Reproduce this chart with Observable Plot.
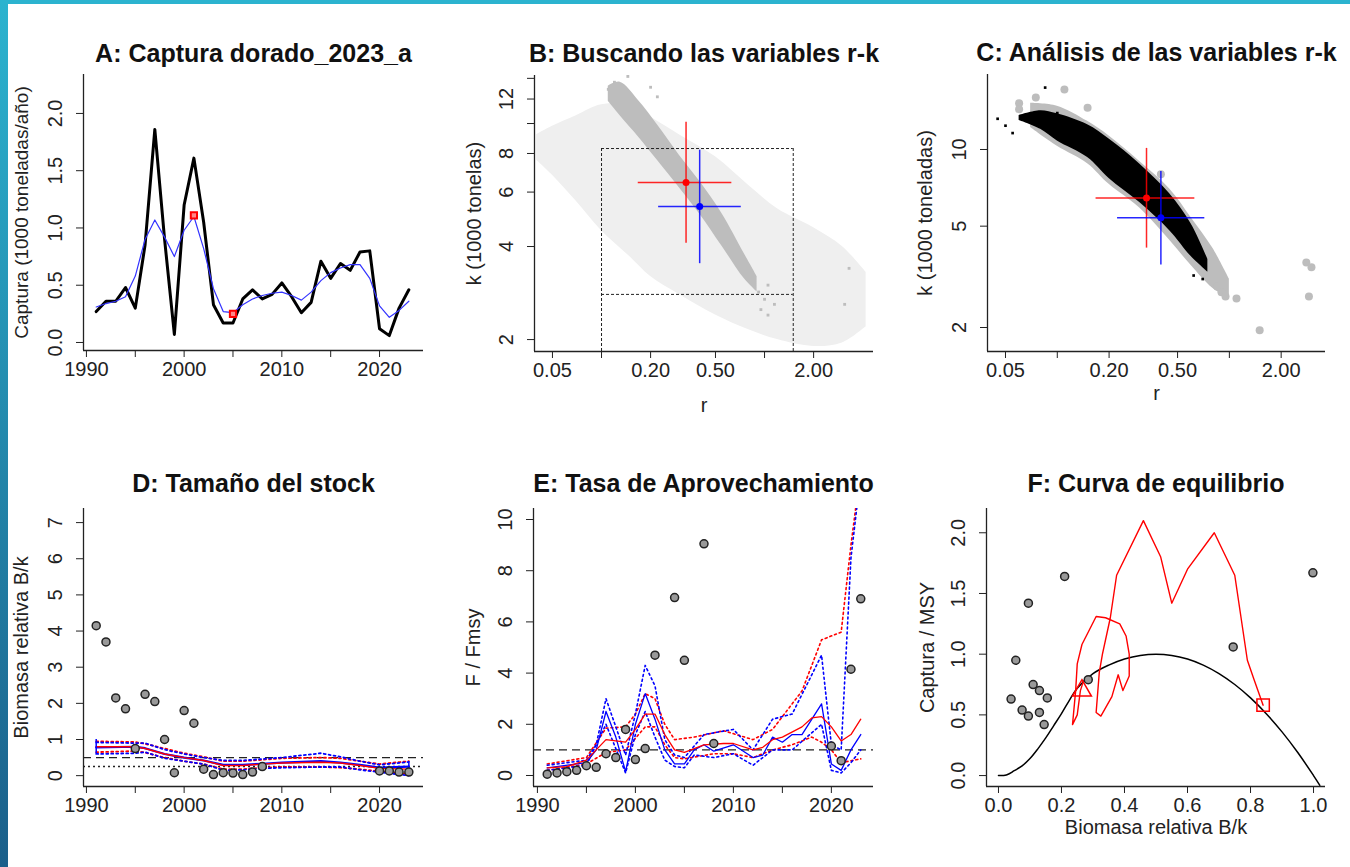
<!DOCTYPE html>
<html><head><meta charset="utf-8">
<script src="https://cdn.jsdelivr.net/npm/d3@7"></script>
<script src="https://cdn.jsdelivr.net/npm/@observablehq/plot@0.6"></script>
<style>
body{margin:0;background:#fff;width:1350px;height:867px;position:relative;overflow:hidden;font-family:"Liberation Sans",Arial,sans-serif}
.p{position:absolute}
#lstrip{position:absolute;left:0;top:0;width:8px;height:867px;background:linear-gradient(#2bb3cf,#1b5f8a)}
#tstrip{position:absolute;left:0;top:0;width:1350px;height:4px;background:#2bb3cf}
</style></head><body>
<div id="lstrip"></div><div id="tstrip"></div>
<script>
// ---------- Panel A data ----------
const years = d3.range(1991, 2024);
const catch_t = [0.27,0.36,0.36,0.48,0.30,0.85,1.86,0.90,0.07,1.20,1.61,1.05,0.33,0.17,0.17,0.38,0.46,0.38,0.42,0.52,0.40,0.26,0.35,0.71,0.56,0.69,0.63,0.79,0.80,0.12,0.06,0.30,0.46];
const catch_s = [0.31,0.34,0.36,0.40,0.58,0.90,1.07,0.92,0.75,0.98,1.10,0.82,0.47,0.27,0.26,0.33,0.38,0.41,0.43,0.44,0.41,0.37,0.44,0.54,0.61,0.65,0.68,0.68,0.56,0.32,0.22,0.28,0.36];
const aMarkX = [2001, 2005];
const aMarkY = [1.11, 0.25];
// ---------- Panel B data ----------
const bLightR  = [0.04,0.05,0.07,0.1,0.15,0.2,0.3,0.5,0.8,1.2,2,3,4.2];
const bLightLo = [7.6,6.8,5.6,4.5,3.7,3.2,2.8,2.4,2.15,2.0,1.9,1.95,2.2];
const bLightHi = [9.2,9.8,10.6,11.5,11.5,10.5,9.2,7.8,6.3,5.3,4.6,4.0,3.3];
const bDarkR  = [0.11,0.13,0.17,0.22,0.3,0.4,0.55,0.75,0.9];
const bDarkLo = [11.8,10.6,9.0,7.6,6.2,5.1,4.0,3.15,2.85];
const bDarkHi = [13.2,13.6,11.8,9.9,7.9,6.5,5.1,3.8,3.2];
const bDotR = [0.12,0.145,0.11,0.2,0.22,0.92,1.0,1.05,1.15,0.95,3.3,3.1,1.05];
const bDotK = [13.6,14.2,12.9,13.1,12.2,2.85,2.7,3.0,2.6,2.5,3.4,2.6,2.4];
const bRect = {r0:0.1, r1:1.5, k0:2.8, k1:8.3};
const redPt = {r:0.33, k:6.45, r0:0.168, r1:0.63, k0:4.1, k1:10.1};
const bluePt = {r:0.40, k:5.39, r0:0.224, r1:0.72, k0:3.52, k1:8.2};
// ---------- Panel C data ----------
const cGrayR  = [0.07,0.1,0.15,0.2,0.3,0.45,0.6,0.8,1.0];
const cGrayLo = [12.2,10.3,8.8,7.3,5.9,4.4,3.5,2.85,2.6];
const cGrayHi = [15.2,14.8,12.9,11.3,9.0,7.0,5.4,4.1,3.1];
const cBlackR  = [0.06,0.08,0.1,0.15,0.2,0.3,0.45,0.6,0.75];
const cBlackLo = [13.0,12.0,10.8,9.3,7.7,6.2,4.8,3.8,3.3];
const cBlackHi = [13.6,14.2,13.8,12.5,11.0,8.8,6.7,5.1,3.7];
const cGrayDotR = [0.06,0.075,0.11,0.15,0.06,2.8,3.0,2.9,1.5,1.1,0.9,0.95,0.85,0.4];
const cGrayDotK = [15.2,16.0,17.2,14.6,14.4,3.6,3.45,2.65,1.95,2.6,2.75,2.65,2.9,8.0];
const cBlackDotR = [0.045,0.05,0.055,0.085,0.09,0.1,0.62,0.7];
const cBlackDotK = [13.2,12.4,11.6,17.5,13.4,13.9,3.2,3.1];
// ---------- Panel D data ----------
const dPtYear = [1991,1992,1993,1994,1995,1996,1997,1998,1999,2000,2001,2002,2003,2004,2005,2006,2007,2008,2020,2021,2022,2023];
const dPtBk   = [4.15,3.7,2.15,1.85,0.75,2.25,2.05,1.0,0.08,1.8,1.45,0.18,0.03,0.08,0.07,0.03,0.1,0.25,0.13,0.13,0.1,0.1];
const dYears  = [1991,1995,1996,1998,2000,2002,2004,2006,2008,2010,2014,2016,2018,2020,2023];
const dRedMed = [0.8,0.8,0.75,0.6,0.5,0.42,0.28,0.28,0.32,0.35,0.37,0.35,0.28,0.2,0.18];
const dRedHi  = [0.95,0.93,0.88,0.75,0.62,0.52,0.4,0.4,0.44,0.48,0.5,0.48,0.4,0.32,0.4];
const dRedLo  = [0.65,0.68,0.64,0.5,0.4,0.32,0.18,0.18,0.22,0.24,0.24,0.22,0.18,0.12,0.05];
const dBlueMed= [0.78,0.8,0.76,0.6,0.5,0.42,0.3,0.3,0.33,0.36,0.4,0.36,0.3,0.22,0.25];
const dBlueHi = [0.92,0.9,0.9,0.72,0.6,0.5,0.42,0.42,0.46,0.5,0.62,0.52,0.4,0.3,0.38];
const dBlueLo = [0.6,0.62,0.65,0.48,0.4,0.32,0.15,0.16,0.2,0.22,0.24,0.24,0.16,0.1,0.0];
// ---------- Panel E data ----------
const ePtYear = [1991,1992,1993,1994,1995,1996,1997,1998,1999,2000,2001,2002,2004,2005,2007,2008,2020,2021,2022,2023];
const ePtF    = [0.05,0.1,0.15,0.2,0.38,0.32,0.85,0.7,1.8,0.62,1.05,4.7,6.95,4.5,9.05,1.25,1.15,0.58,4.15,6.9];
const eRedY   = [1991,1993,1995,1996,1997,1999,2000,2001,2002,2003,2004,2005,2006,2007,2009,2010,2012,2013,2014,2015,2017,2018,2019,2020,2021,2022,2023];
const eRedMed = [0.3,0.35,0.6,1.0,1.4,1.3,1.8,2.4,2.4,1.6,1.0,0.9,1.05,1.2,1.25,1.25,1.0,1.1,1.4,1.5,1.9,2.25,2.3,1.9,1.35,1.6,2.2];
const eRedHiY = [1991,1995,1997,1999,2000,2001,2002,2003,2004,2006,2009,2012,2014,2016,2017,2019,2021,2022,2022.6];
const eRedHi  = [0.45,0.7,1.85,1.9,2.4,3.2,3.0,2.0,1.4,1.5,1.75,1.4,1.8,2.8,3.3,5.3,5.6,9.0,10.8];
const eRedLoY = [1991,1995,1997,1999,2001,2002,2003,2004,2005,2008,2010,2012,2014,2016,2018,2019,2020,2021,2023];
const eRedLo  = [0.2,0.45,0.9,1.0,1.9,1.9,1.2,0.7,0.65,0.85,0.85,0.7,1.0,1.2,1.5,1.3,1.0,0.5,0.65];
const eBlueY  = [1991,1995,1996,1997,1998,1999,2000,2001,2002,2003,2004,2005,2006,2007,2008,2010,2012,2013,2014,2015,2016,2017,2019,2020,2021,2022,2023];
const eBlueMed= [0.3,0.5,1.0,2.5,1.5,0.15,2.0,3.2,2.2,1.0,0.45,0.45,1.0,1.2,0.95,1.2,0.7,0.8,1.5,1.3,1.6,1.6,2.8,0.45,0.2,1.0,1.6];
const eBlueHiY= [1991,1995,1996,1997,1999,2000,2001,2002,2003,2004,2005,2007,2010,2012,2014,2016,2019,2020,2021,2022,2022.7];
const eBlueHi = [0.4,0.6,1.2,3.0,0.8,2.4,4.3,3.5,1.4,0.8,0.7,1.6,1.8,1.0,2.2,2.4,4.7,1.2,1.0,8.5,10.8];
const eBlueLoY= [1991,1995,1997,1999,2000,2001,2002,2003,2004,2005,2006,2008,2010,2012,2014,2016,2019,2020,2021,2022,2023];
const eBlueLo = [0.2,0.4,2.0,0.1,1.6,2.5,1.5,0.6,0.35,0.3,0.8,0.7,0.85,0.4,1.0,1.0,2.0,0.2,0.1,0.5,1.0];
// ---------- Panel F data ----------
const fCurveB = [0,0.025,0.05,0.075,0.1,0.125,0.15,0.175,0.2,0.225,0.25,0.3,0.35,0.4,0.45,0.5,0.55,0.6,0.65,0.7,0.75,0.8,0.85,0.9,0.95,1.0,1.02];
const fCurveC = [0,0.005,0.04,0.08,0.14,0.22,0.31,0.41,0.51,0.62,0.72,0.84,0.91,0.96,0.99,1.0,0.99,0.96,0.91,0.84,0.75,0.64,0.51,0.36,0.19,0.0,-0.08];
const fPtB = [0.04,0.055,0.075,0.095,0.095,0.11,0.13,0.13,0.145,0.155,0.21,0.285,0.745,0.998];
const fPtC = [0.63,0.95,0.54,0.49,1.42,0.75,0.70,0.52,0.42,0.64,1.64,0.79,1.06,1.67];
const fTrajB = [0.84,0.81,0.79,0.75,0.685,0.6,0.55,0.515,0.46,0.375,0.355,0.33,0.32,0.31,0.325,0.36,0.38,0.395,0.415,0.415,0.405,0.385,0.34,0.31,0.265,0.25,0.245,0.235,0.25,0.26,0.27];
const fTrajC = [0.58,0.8,0.95,1.65,2.0,1.7,1.42,1.8,2.1,1.65,1.3,1.0,0.85,0.52,0.49,0.65,0.83,0.7,0.82,1.0,1.15,1.25,1.3,1.31,1.08,0.92,0.7,0.42,0.5,0.7,0.78];
const fStart = {b:0.84, c:0.58};
const fEnd = {b:0.265, c:0.70};

// ---------- helpers ----------
const FONT = "Liberation Sans, Arial, sans-serif";
const TICK = 20, TITLE = 25, LAB = 20;
const zip = (a, b, ka, kb) => a.map((v, i) => ({[ka]: v, [kb]: b[i]}));
const zip3 = (a, b, c) => a.map((v, i) => ({x: v, lo: b[i], hi: c[i]}));

function panel({left, top, w, h, ml, mr, mt, mb, x, y, xticks, xfmt, yticks, yfmt, title, tdy, ylab, ydx, ylabSize, xlab, xdy, marks}) {
  const all = [
    ...marks,
    Plot.ruleX([x.domain[0]], {stroke: "#222", strokeWidth: 1.3}),
    Plot.ruleY([y.domain[0]], {stroke: "#222", strokeWidth: 1.3}),
    Plot.axisX({ticks: xticks, tickFormat: () => "", tickSize: 7, label: null, stroke: "#222"}),
    Plot.axisY({ticks: yticks, tickFormat: () => "", tickSize: 7, label: null, stroke: "#222"}),
    Plot.text(xticks, {x: d => d, text: xfmt, frameAnchor: "bottom", dy: 25, textAnchor: "middle", fontSize: TICK, fill: "#222", clip: false}),
    Plot.text(yticks, {y: d => d, text: yfmt, frameAnchor: "left", dx: -28, rotate: -90, textAnchor: "middle", fontSize: TICK, fill: "#222", clip: false}),
    Plot.text([title], {text: d => d, frameAnchor: "top", dy: tdy, textAnchor: "middle", fontSize: TITLE, fontWeight: "bold", fill: "#111", clip: false}),
    Plot.text([ylab], {text: d => d, frameAnchor: "left", dx: ydx, rotate: -90, textAnchor: "middle", fontSize: ylabSize || LAB, fill: "#222", clip: false})
  ];
  if (xlab) all.push(Plot.text([xlab], {text: d => d, frameAnchor: "bottom", dy: xdy, textAnchor: "middle", fontSize: LAB, fill: "#222", clip: false}));
  const svg = Plot.plot({
    width: w, height: h, marginLeft: ml, marginRight: mr, marginTop: mt, marginBottom: mb,
    x: {...x, label: null}, y: {...y, label: null},
    style: {fontFamily: FONT, background: "transparent", overflow: "visible"},
    marks: all
  });
  const div = document.createElement("div");
  div.className = "p"; div.style.left = left + "px"; div.style.top = top + "px";
  div.appendChild(svg); document.body.appendChild(div);
}

const yr = {type: "linear", domain: [1989.7, 2024.5]};
const yrE = {type: "linear", domain: [1989.6, 2024.3]};
const f1 = d => d.toFixed(1);
const logFmt = lab => d => lab.includes(d) ? d.toFixed(2) : "";
const yearFmt = d => d % 10 === 0 ? String(d) : "";
const yearTicks = [1990, 1995, 2000, 2005, 2010, 2015, 2020];

// ---------- A ----------
panel({left: 0, top: 60, w: 440, h: 360, ml: 83, mr: 17, mt: 14, mb: 70,
  x: yr, y: {type: "linear", domain: [-0.07, 2.34]},
  xticks: yearTicks, xfmt: yearFmt,
  yticks: [0, 0.5, 1, 1.5, 2], yfmt: f1,
  title: "A: Captura dorado_2023_a", tdy: -30, ylab: "Captura (1000 toneladas/año)", ydx: -62, ylabSize: 19,
  marks: [
    Plot.line(zip(years, catch_t, "x", "y"), {x: "x", y: "y", stroke: "#000", strokeWidth: 3}),
    Plot.line(zip(years, catch_s, "x", "y"), {x: "x", y: "y", stroke: "#3333ff", strokeWidth: 1.2}),
    Plot.dot(zip(aMarkX, aMarkY, "x", "y"), {x: "x", y: "y", symbol: "square", r: 3.5, stroke: "red", strokeWidth: 2, fill: "#ff8888"})
  ]});

// ---------- B ----------
function cross(p, col) {
  return [
    Plot.ruleY([p], {y: "k", x1: "r0", x2: "r1", stroke: col, strokeWidth: 1.5, strokeOpacity: 0.85}),
    Plot.ruleX([p], {x: "r", y1: "k0", y2: "k1", stroke: col, strokeWidth: 1.5, strokeOpacity: 0.85}),
    Plot.dot([p], {x: "r", y: "k", r: 3.5, fill: col})
  ];
}
panel({left: 450, top: 60, w: 440, h: 360, ml: 84, mr: 17, mt: 15, mb: 69,
  x: {type: "log", domain: [0.0388, 4.66]}, y: {type: "log", domain: [1.83, 14.3]},
  xticks: [0.05, 0.1, 0.2, 0.5, 1, 2], xfmt: logFmt([0.05, 0.2, 0.5, 2]),
  yticks: [2, 4, 6, 8, 10, 12, 14], yfmt: d => [2, 4, 6, 8, 12].includes(d) ? String(d) : "",
  title: "B: Buscando las variables r-k", tdy: -31, ylab: "k (1000 tonelas)", ydx: -60,
  xlab: "r", xdy: 60,
  marks: [
    Plot.areaY(zip3(bLightR, bLightLo, bLightHi), {x: "x", y1: "lo", y2: "hi", fill: "#efefef", curve: "catmull-rom"}),
    Plot.areaY(zip3(bDarkR, bDarkLo, bDarkHi), {x: "x", y1: "lo", y2: "hi", fill: "#bdbdbd", curve: "catmull-rom"}),
    Plot.dot(zip(bDotR, bDotK, "x", "y"), {x: "x", y: "y", symbol: "square", r: 1.6, fill: "#bdbdbd"}),
    Plot.ruleX([bRect.r0, bRect.r1], {y1: 1.83, y2: bRect.k1, stroke: "#222", strokeDasharray: "3,2"}),
    Plot.ruleY([bRect.k0, bRect.k1], {x1: bRect.r0, x2: bRect.r1, stroke: "#222", strokeDasharray: "3,2"}),
    ...cross(redPt, "red"), ...cross(bluePt, "blue")
  ]});

// ---------- C ----------
panel({left: 900, top: 60, w: 440, h: 360, ml: 87, mr: 15, mt: 14, mb: 69,
  x: {type: "log", domain: [0.0393, 3.62]}, y: {type: "log", domain: [1.61, 19.7]},
  xticks: [0.05, 0.1, 0.2, 0.5, 1, 2], xfmt: logFmt([0.05, 0.2, 0.5, 2]),
  yticks: [2, 5, 10], yfmt: d => String(d),
  title: "C: Análisis de las variables r-k", tdy: -31, ylab: "k (1000 toneladas)", ydx: -62,
  xlab: "r", xdy: 48,
  marks: [
    Plot.areaY(zip3(cGrayR, cGrayLo, cGrayHi), {x: "x", y1: "lo", y2: "hi", fill: "#bdbdbd", curve: "catmull-rom"}),
    Plot.dot(zip(cGrayDotR, cGrayDotK, "x", "y"), {x: "x", y: "y", r: 4, fill: "#bdbdbd"}),
    Plot.areaY(zip3(cBlackR, cBlackLo, cBlackHi), {x: "x", y1: "lo", y2: "hi", fill: "#000", curve: "catmull-rom"}),
    Plot.dot(zip(cBlackDotR, cBlackDotK, "x", "y"), {x: "x", y: "y", symbol: "square", r: 1.5, fill: "#000"}),
    ...cross(redPt, "red"), ...cross(bluePt, "blue")
  ]});

// ---------- D ----------
const dLine = (ys, col, dash, sw) => Plot.line(zip(dYears, ys, "x", "y"), {x: "x", y: "y", stroke: col, strokeWidth: sw, strokeDasharray: dash});
panel({left: 0, top: 490, w: 440, h: 360, ml: 83, mr: 17, mt: 18, mb: 64,
  x: yr, y: {type: "linear", domain: [-0.3, 7.39]},
  xticks: yearTicks, xfmt: yearFmt,
  yticks: [0, 1, 2, 3, 4, 5, 6, 7], yfmt: d => String(d),
  title: "D: Tamaño del stock", tdy: -34, ylab: "Biomasa relativa B/k", ydx: -62,
  marks: [
    Plot.ruleY([0.5], {stroke: "#222", strokeDasharray: "8,5", strokeWidth: 1.3}),
    Plot.ruleY([0.25], {stroke: "#222", strokeDasharray: "2,3", strokeWidth: 1.5}),
    dLine(dRedHi, "red", "2,3", 1.8), dLine(dRedLo, "red", "2,3", 1.8),
    dLine(dBlueHi, "blue", "2,3", 1.8), dLine(dBlueLo, "blue", "2,3", 1.8),
    dLine(dBlueMed, "blue", null, 2.2), dLine(dRedMed, "red", null, 1.4),
    Plot.ruleX([1991], {y1: 0.6, y2: 1.0, stroke: "blue", strokeWidth: 1.5}),
    Plot.ruleX([2023], {y1: 0.0, y2: 0.38, stroke: "blue", strokeWidth: 1.5}),
    Plot.dot(zip(dPtYear, dPtBk, "x", "y"), {x: "x", y: "y", r: 4, fill: "#999", stroke: "#222", strokeWidth: 1.5})
  ]});

// ---------- E ----------
const eL = (xs, ys, col, dash, sw) => Plot.line(zip(xs, ys, "x", "y"), {x: "x", y: "y", stroke: col, strokeWidth: sw, strokeDasharray: dash, clip: true});
panel({left: 450, top: 490, w: 440, h: 360, ml: 83, mr: 17, mt: 18, mb: 64,
  x: yrE, y: {type: "linear", domain: [-0.43, 10.43]},
  xticks: yearTicks, xfmt: yearFmt,
  yticks: [0, 2, 4, 6, 8, 10], yfmt: d => String(d),
  title: "E: Tasa de Aprovechamiento", tdy: -34, ylab: "F / Fmsy", ydx: -60,
  marks: [
    Plot.ruleY([1], {stroke: "#222", strokeDasharray: "8,5", strokeWidth: 1.3}),
    eL(eRedHiY, eRedHi, "red", "2,3", 1.6), eL(eRedLoY, eRedLo, "red", "2,3", 1.6),
    eL(eBlueHiY, eBlueHi, "blue", "2,3", 1.6), eL(eBlueLoY, eBlueLo, "blue", "2,3", 1.6),
    eL(eBlueY, eBlueMed, "blue", null, 1.3), eL(eRedY, eRedMed, "red", null, 1.3),
    Plot.dot(zip(ePtYear, ePtF, "x", "y"), {x: "x", y: "y", r: 4, fill: "#999", stroke: "#222", strokeWidth: 1.5})
  ]});

// ---------- F ----------
panel({left: 900, top: 490, w: 440, h: 360, ml: 86, mr: 15, mt: 18, mb: 64,
  x: {type: "linear", domain: [-0.038, 1.038]}, y: {type: "linear", domain: [-0.09, 2.2]},
  xticks: [0, 0.2, 0.4, 0.6, 0.8, 1.0], xfmt: f1,
  yticks: [0, 0.5, 1, 1.5, 2], yfmt: f1,
  title: "F: Curva de equilibrio", tdy: -34, ylab: "Captura / MSY", ydx: -59,
  xlab: "Biomasa relativa B/k", xdy: 47,
  marks: [
    Plot.line(zip(fCurveB, fCurveC, "x", "y"), {x: "x", y: "y", stroke: "#000", strokeWidth: 1.5, curve: "catmull-rom", clip: true}),
    Plot.line(zip(fTrajB, fTrajC, "x", "y"), {x: "x", y: "y", stroke: "red", strokeWidth: 1.4}),
    Plot.dot([fStart], {x: "b", y: "c", symbol: "square", r: 7, stroke: "red", strokeWidth: 1.5}),
    Plot.dot([fEnd], {x: "b", y: "c", symbol: "triangle", r: 7, stroke: "red", strokeWidth: 1.5}),
    Plot.dot(zip(fPtB, fPtC, "x", "y"), {x: "x", y: "y", r: 4, fill: "#999", stroke: "#222", strokeWidth: 1.5})
  ]});
</script>
</body></html>
